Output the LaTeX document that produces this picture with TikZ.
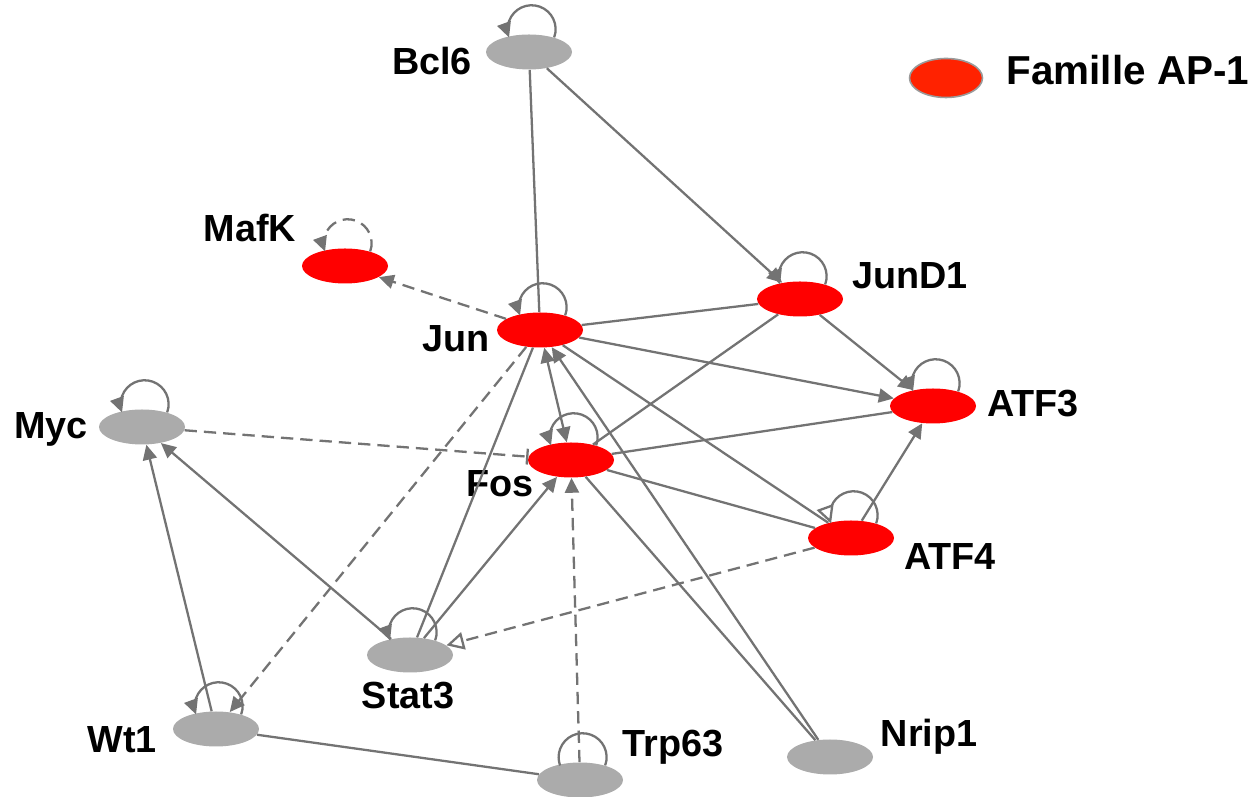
\documentclass[tikz,border=0pt]{standalone}
\usepackage{fontspec}
\setmainfont{Liberation Sans}
\usetikzlibrary{arrows.meta,positioning,shapes.geometric}
\definecolor{NetRed}{HTML}{FF0000}
\definecolor{NetLegend}{HTML}{FF2200}
\definecolor{NetGray}{HTML}{ABABAB}
\definecolor{NetEdge}{HTML}{737373}
\definecolor{NetRim}{HTML}{9A9A9A}
\tikzset{
  netgene/.style={
    ellipse,
    fill=NetGray,
    minimum width=1.72cm,
    minimum height=0.70cm,
    inner sep=0pt
  },
  netap/.style={netgene,fill=NetRed},
  netlabel/.style={
    font=\fontsize{21.5}{25}\selectfont\bfseries,
    text height=0.72em,
    text depth=0pt,
    inner sep=0pt
  },
  netline/.style={draw=NetEdge,line width=1.3pt},
  netact/.style={netline,-{Triangle[length=8.5pt,width=8pt]}},
  netboth/.style={netline,{Triangle[length=8.5pt,width=8pt]}-{Triangle[length=8.5pt,width=8pt]}},
  netdash/.style={netline,dash pattern=on 7pt off 4pt},
  netdashact/.style={netdash,-{Triangle[length=8.5pt,width=8pt]}},
  netopen/.style={-{Triangle[open,length=10pt,width=10pt,fill=white]}},
  netinhib/.style={netdash,-{Bar[width=9pt]}}
}

\begin{document}
\begin{tikzpicture}
  \useasboundingbox (0,0) rectangle (25.2,15.94);
  % genes
  \node[netgene] (bcl6) at (10.58,14.90) {};
  \node[netap] (mafk) at (6.90,10.62) {};
  \node[netap] (jun) at (10.80,9.34) {};
  \node[netap] (fos) at (11.42,6.74) {};
  \node[netap] (jund1) at (16.00,9.96) {};
  \node[netap] (atf3) at (18.66,7.82) {};
  \node[netap] (atf4) at (17.02,5.18) {};
  \node[netgene] (myc) at (2.84,7.40) {};
  \node[netgene] (stat3) at (8.20,2.84) {};
  \node[netgene] (wt1) at (4.32,1.36) {};
  \node[netgene] (trp63) at (11.60,0.34) {};
  \node[netgene] (nrip1) at (16.60,0.80) {};
  % names
  \node[netlabel] (bcl6-lbl) at (8.64,14.58) {Bcl6};
  \node[netlabel] (mafk-lbl) at (5.00,11.24) {MafK};
  \node[netlabel] (jun-lbl) at (9.12,9.04) {Jun};
  \node[netlabel] (fos-lbl) at (10.00,6.14) {Fos};
  \node[netlabel] (jund1-lbl) at (18.20,10.30) {JunD1};
  \node[netlabel] (atf3-lbl) at (20.66,7.74) {ATF3};
  \node[netlabel] (atf4-lbl) at (19.00,4.68) {ATF4};
  \node[netlabel] (myc-lbl) at (1.02,7.30) {Myc};
  \node[netlabel] (stat3-lbl) at (8.16,1.90) {Stat3};
  \node[netlabel] (wt1-lbl) at (2.44,1.02) {Wt1};
  \node[netlabel] (trp63-lbl) at (13.46,0.94) {Trp63};
  \node[netlabel] (nrip1-lbl) at (18.58,1.14) {Nrip1};
  % legend
  \node[ellipse,fill=NetLegend,draw=NetRim,line width=0.9pt,minimum width=1.46cm,minimum height=0.78cm,inner sep=0pt] (legend) at (18.92,14.38) {};
  \node[netlabel,font=\fontsize{23}{27}\selectfont\bfseries,right=0.46cm of legend] (legend-lbl) {Famille AP-1};
  % relations
  \draw[netline] (bcl6) -- (jun);
  \draw[netact] (bcl6) -- (jund1);
  \draw[netdashact] (jun) -- (mafk);
  \draw[netline] (jun) -- (jund1);
  \draw[netact] (jun) -- (atf3);
  \draw[netline] (jun) -- (atf4);
  \draw[netboth] (fos) -- (jun);
  \draw[netdashact] (jun) -- (wt1);
  \draw[netact] (jund1) -- (atf3);
  \draw[netline] (fos) -- (jund1);
  \draw[netline] (fos) -- (atf3);
  \draw[netline] (fos) -- (atf4);
  \draw[netact] (atf4) -- (atf3);
  \draw[netdash,netopen] (atf4) -- (stat3);
  \draw[netinhib] (myc) -- (fos);
  \draw[netline] (stat3) -- (jun);
  \draw[netact] (stat3) -- (fos);
  \draw[netact] (stat3) -- (myc);
  \draw[netact] (wt1) -- (myc);
  \draw[netline] (wt1) -- (trp63);
  \draw[netdashact] (trp63) -- (fos);
  \draw[netact] (nrip1) -- (jun);
  \draw[netline] (nrip1) -- (fos);
  % self loops
  \draw[netact] (bcl6.30) arc[start angle=-20,end angle=200,radius=0.48cm];
  \draw[netdashact] (mafk.30) arc[start angle=-20,end angle=200,radius=0.48cm];
  \draw[netact] (jun.30) arc[start angle=-20,end angle=200,radius=0.48cm];
  \draw[netact] (fos.30) arc[start angle=-20,end angle=200,radius=0.48cm];
  \draw[netact] (jund1.30) arc[start angle=-20,end angle=200,radius=0.48cm];
  \draw[netact] (atf3.30) arc[start angle=-20,end angle=200,radius=0.48cm];
  \draw[netline,netopen] (atf4.30) arc[start angle=-20,end angle=200,radius=0.48cm];
  \draw[netact] (myc.30) arc[start angle=-20,end angle=200,radius=0.48cm];
  \draw[netact] (stat3.30) arc[start angle=-20,end angle=200,radius=0.48cm];
  \draw[netact] (wt1.30) arc[start angle=-20,end angle=200,radius=0.48cm];
  \draw[netline] (trp63.30) arc[start angle=-20,end angle=200,radius=0.48cm];
\end{tikzpicture}
\end{document}
